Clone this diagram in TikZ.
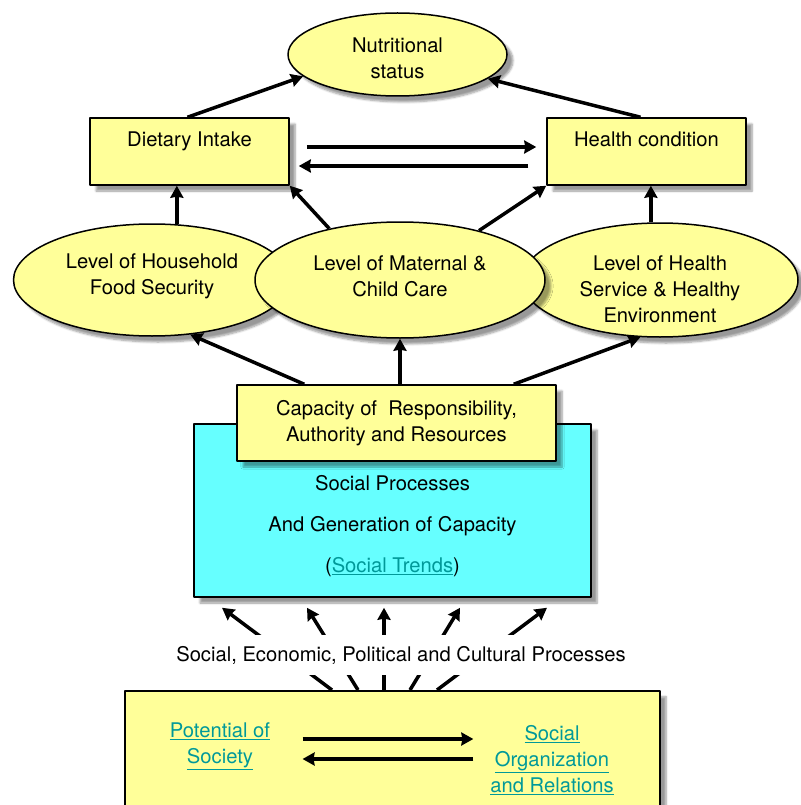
\documentclass[tikz,border=0pt]{standalone}
\usepackage{fontspec}
\setmainfont{TeX Gyre Heros}
\usetikzlibrary{shapes.geometric,arrows.meta,shadows.blur}
\definecolor{paleyellow}{HTML}{FFFF99}
\definecolor{aqua}{HTML}{66FFFF}
\definecolor{linkteal}{HTML}{009999}
\tikzset{
  softshadow/.style={blur shadow={shadow xshift=6pt,shadow yshift=-6pt,shadow blur steps=6}},
  oval/.style={ellipse,draw,line width=1.5pt,fill=paleyellow,inner sep=0pt,align=center,softshadow},
  card/.style={rectangle,draw,line width=1.5pt,fill=paleyellow,inner sep=0pt,align=center,softshadow},
  flow/.style={->,line width=3.5pt},
  link/.style={text=linkteal,align=center}
}
\begin{document}
\begin{tikzpicture}[x=1pt,y=-1pt,font=\fontsize{20.2}{26}\selectfont,line join=round,>={Stealth[length=12pt,width=13pt,inset=1pt]}]
\useasboundingbox (0,0) rectangle (800,805);
% lower part: society
\node[card,minimum width=535,minimum height=140,anchor=north] (base) at (392.5,690) {};
\node[link] (pot) at (220,746) {\underline{Potential of}\\\underline{Society}};
\node[link] (org) at (552,760) {\underline{Social}\\\underline{Organization}\\\underline{and Relations}};
\draw[flow] ([xshift=29pt,yshift=7pt]pot.east) -- ([xshift=-13.5pt,yshift=7pt]org.west |- pot.east);
\draw[flow] ([xshift=-13.5pt,yshift=-13pt]org.west |- pot.east) -- ([xshift=29pt,yshift=-13pt]pot.east);
% social processes and capacity
\node[card,fill=aqua,minimum width=397,minimum height=173] (proc) at (392.5,510.5) {};
\node[card,minimum width=319,minimum height=76] (cap) at (396.5,423) {Capacity of~ Responsibility,\\Authority and Resources};
\node[align=center] (proctxt) at (392.5,526) {Social Processes\\[15pt]And Generation of Capacity\\[15pt](\textcolor{linkteal}{\underline{Social Trends}})};
\foreach \s/\e in {-60.5/-170.5,-34.5/-85.5,-8.5/-8.5,17.5/67.5,44.5/154.5}
  \draw[flow] ([xshift=\s pt]base.north) -- ([xshift=\e pt,yshift=-10pt]proc.south);
\node[fill=white,minimum height=40,inner xsep=3pt] (forces) at (401,655) {Social, Economic, Political and Cultural Processes};
% underlying causes
\node[oval,minimum width=277,minimum height=112,label={[align=center,yshift=4pt]center:Level of Household\\Food Security}] (food) at (152,280) {};
\node[oval,minimum width=276,minimum height=114,label={[align=center,yshift=-9pt]center:Level of Health\\Service \& Healthy\\Environment}] (hserv) at (660,280) {};
\node[oval,minimum width=290,minimum height=116,label={[align=center,yshift=4pt]center:Level of Maternal \&\\Child Care}] (care) at (400,280) {};
% immediate causes and outcome
\node[card,minimum width=199,minimum height=67,label={[yshift=10pt]center:Dietary Intake}] (diet) at (189.5,151.5) {};
\node[card,minimum width=199,minimum height=67,label={[yshift=12pt]center:Health condition}] (health) at (646.5,151.5) {};
\node[oval,minimum width=219,minimum height=83,label={[align=center,yshift=-4pt]center:Nutritional\\status}] (nut) at (397.5,54.5) {};
\draw[flow] ([xshift=-2pt]diet.north) -- (nut.193);
\draw[flow] ([xshift=-6pt]health.north) -- (nut.-15);
\draw[flow] ([xshift=17pt,yshift=4.5pt]diet.east) -- ([xshift=-10pt,yshift=4.5pt]health.west);
\draw[flow] ([xshift=-18pt,yshift=-14.5pt]health.west) -- ([xshift=9pt,yshift=-14.5pt]diet.east);
\draw[flow] (food.66) -- (food.66 |- diet.south);
\draw[flow] (hserv.99) -- (hserv.99 |- health.south);
\draw[flow] (care.144) -- (diet.south east);
\draw[flow] (care.32) -- (health.south west);
\draw[flow] ([xshift=68pt]cap.north west) -- (food.-55);
\draw[flow] (care.south |- cap.north) -- (care.south);
\draw[flow] ([xshift=-43pt]cap.north east) -- (hserv.-109);
\end{tikzpicture}
\end{document}
